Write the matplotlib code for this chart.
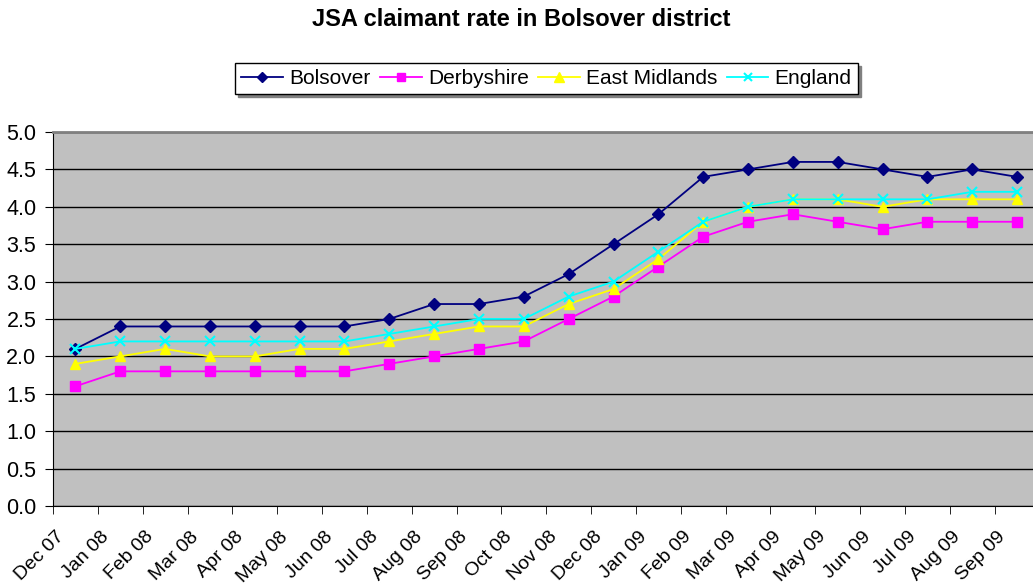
import matplotlib
matplotlib.use("Agg")
import matplotlib.pyplot as plt
import matplotlib.transforms as mtransforms
import numpy as np

plt.rcParams['font.family'] = ['Liberation Sans', 'DejaVu Sans']

# data
months = ["Dec 07", "Jan 08", "Feb 08", "Mar 08", "Apr 08", "May 08", "Jun 08",
          "Jul 08", "Aug 08", "Sep 08", "Oct 08", "Nov 08", "Dec 08", "Jan 09",
          "Feb 09", "Mar 09", "Apr 09", "May 09", "Jun 09", "Jul 09", "Aug 09", "Sep 09"]
bolsover = [2.1, 2.4, 2.4, 2.4, 2.4, 2.4, 2.4, 2.5, 2.7, 2.7, 2.8, 3.1, 3.5, 3.9,
            4.4, 4.5, 4.6, 4.6, 4.5, 4.4, 4.5, 4.4]
derbyshire = [1.6, 1.8, 1.8, 1.8, 1.8, 1.8, 1.8, 1.9, 2.0, 2.1, 2.2, 2.5, 2.8, 3.2,
              3.6, 3.8, 3.9, 3.8, 3.7, 3.8, 3.8, 3.8]
east_midlands = [1.9, 2.0, 2.1, 2.0, 2.0, 2.1, 2.1, 2.2, 2.3, 2.4, 2.4, 2.7, 2.9, 3.3,
                 3.8, 4.0, 4.1, 4.1, 4.0, 4.1, 4.1, 4.1]
england = [2.1, 2.2, 2.2, 2.2, 2.2, 2.2, 2.2, 2.3, 2.4, 2.5, 2.5, 2.8, 3.0, 3.4,
           3.8, 4.0, 4.1, 4.1, 4.1, 4.1, 4.2, 4.2]

fig = plt.figure(figsize=(10.33, 5.88), dpi=100)
# plot area runs a little past the right edge, as in the original
ax = fig.add_axes([0.0513, 0.1395, 0.955, 0.636])
ax.set_facecolor('#C0C0C0')

x = np.arange(len(months))
ax.plot(x, bolsover, color='#000080', marker='D', markersize=6, lw=1.3, label='Bolsover')
ax.plot(x, derbyshire, color='#FF00FF', marker='s', markersize=6.5, lw=1.3, label='Derbyshire')
ax.plot(x, east_midlands, color='#FFFF00', marker='^', markersize=7.5, lw=1.3, label='East Midlands')
ax.plot(x, england, color='#00FFFF', marker='x', markersize=7, mew=1.5, lw=1.3, label='England')

ax.set_xlim(-0.5, len(months) - 0.5)
ax.set_ylim(0, 5)
yt = np.arange(0, 5.01, 0.5)
ax.set_yticks(yt)
ax.set_yticklabels([f"{v:.1f}" for v in yt], fontsize=15.5)
ax.yaxis.grid(True, color='black', lw=1)
ax.set_axisbelow(True)

ax.set_xticks(x)
ax.set_xticklabels(months, rotation=45, ha='right', fontsize=14)
ax.tick_params(axis='x', length=0, pad=16)
ax.set_xticks(np.arange(-0.5, len(months), 1), minor=True)
ax.tick_params(axis='x', which='minor', length=6, color='black')
ax.tick_params(axis='y', length=6, color='black', pad=6)
shift = mtransforms.ScaledTranslation(-8 / 100, 0, fig.dpi_scale_trans)
for lab in ax.get_xticklabels():
    lab.set_transform(lab.get_transform() + shift)

ax.spines['top'].set_color('#808080')
ax.spines['top'].set_linewidth(2)
ax.spines['right'].set_visible(False)
ax.spines['left'].set_color('black')
ax.spines['bottom'].set_color('black')

fig.text(0.505, 0.966, 'JSA claimant rate in Bolsover district', ha='center', va='center',
         fontsize=17, fontweight='bold')

leg = fig.legend(loc='center', bbox_to_anchor=(0.529, 0.8665), ncol=4, fontsize=15,
                 frameon=True, fancybox=False, edgecolor='black',
                 shadow={'color': '#808080', 'alpha': 1},
                 handlelength=2.0, handletextpad=0.3, columnspacing=0.45,
                 borderpad=0.3, markerscale=0.9)
leg.get_frame().set_linewidth(1)

fig.savefig('out.png', dpi=100)
